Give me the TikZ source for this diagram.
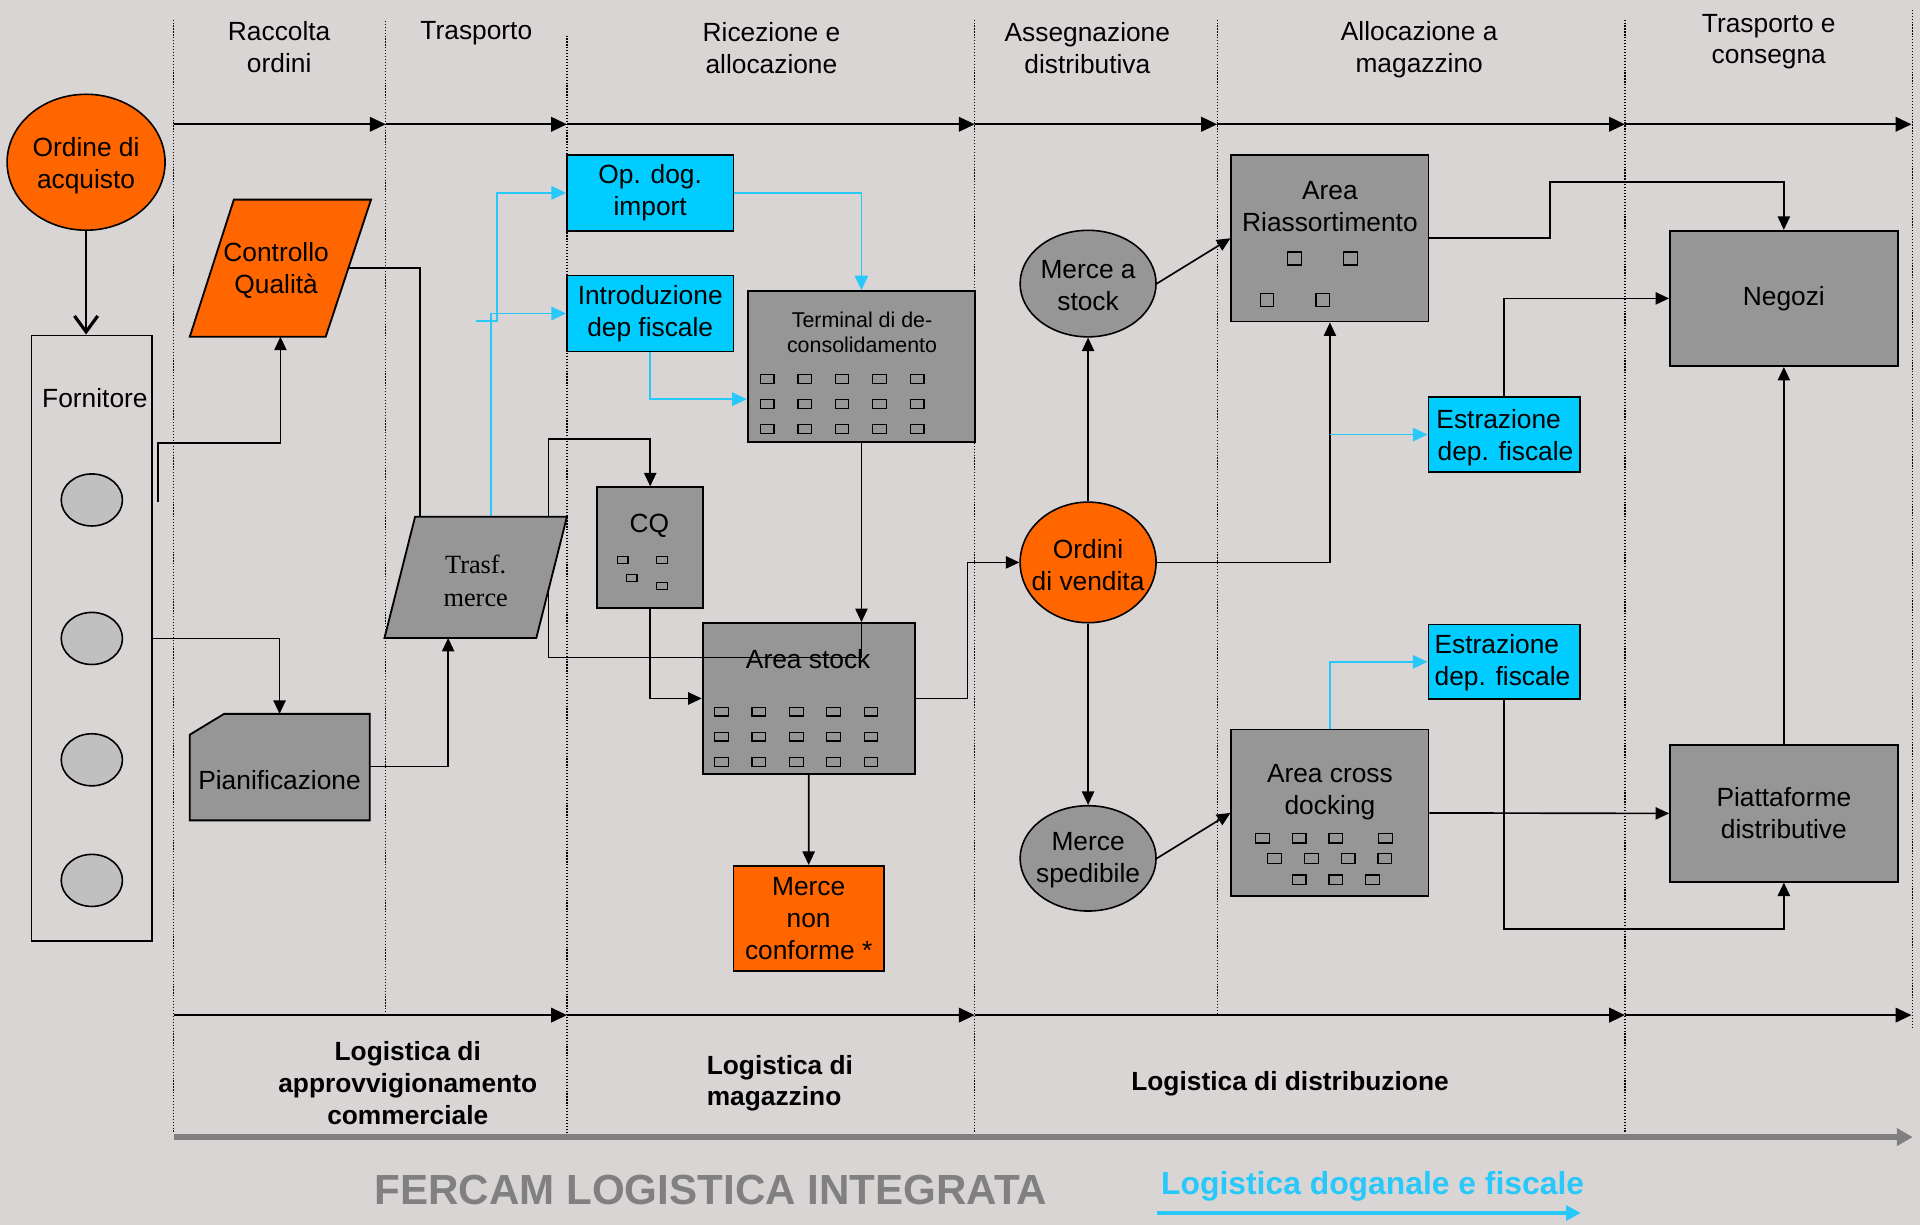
\documentclass[tikz,border=0pt]{standalone}
\usepackage{fontspec}
\setmainfont{Liberation Sans}
\newfontfamily\serifx{Liberation Serif}
\usetikzlibrary{arrows.meta,shapes.geometric}
\definecolor{bgc}{RGB}{217,213,213}
\definecolor{orng}{RGB}{255,102,0}
\definecolor{cyanb}{RGB}{0,204,255}
\definecolor{cyanl}{RGB}{40,200,250}
\definecolor{gboxc}{RGB}{150,150,150}
\definecolor{lgrey}{RGB}{192,192,192}
\definecolor{dgrey}{RGB}{128,128,128}
\tikzset{
 txt/.style={font=\fontsize{21.5}{26}\selectfont, align=center, inner sep=0pt},
 btxt/.style={font=\fontsize{21.5}{26}\selectfont\bfseries, align=center, inner sep=0pt},
 smtxt/.style={font=\fontsize{17.5}{21}\selectfont, align=center, inner sep=0pt},
 grect/.style={rectangle, draw=black, line width=1.5pt, fill=gboxc, inner sep=0pt},
 crect/.style={rectangle, draw=black, line width=1.5pt, fill=cyanb, inner sep=0pt, font=\fontsize{21.5}{26}\selectfont, align=center},
 orect/.style={rectangle, draw=black, line width=1.3pt, fill=orng, inner sep=0pt, font=\fontsize{21.5}{26}\selectfont, align=center},
 gell/.style={ellipse, draw=black, line width=1.3pt, fill=gboxc, inner sep=0pt},
 oell/.style={ellipse, draw=black, line width=1.3pt, fill=orng, inner sep=0pt},
 conn/.style={line width=1.35pt, -{Triangle[length=11pt,width=10pt]}},
 plainc/.style={line width=1.35pt},
 bconn/.style={line width=1.35pt, draw=cyanl, -{Triangle[length=12pt,width=11pt,fill=cyanl]}},
 sqs/.style={draw=black, line width=1pt, fill=gboxc},
 vsep/.style={line width=1pt, dash pattern=on 1pt off 1.4pt},
 phase/.style={line width=1.4pt, -{Triangle[length=13pt,width=12pt]}},
 shapeb/.style={draw=black, line width=1.5pt},
}
\begin{document}
\begin{tikzpicture}[x=1pt,y=-1pt]
\fill[bgc] (0,0) rectangle (1568,1000);
\useasboundingbox (0,0) rectangle (1568,1000);

% ---- phase separators
\foreach \xx/\ya/\yb in {142/16/925, 315/17/829, 463/29/925, 796/16/925, 994/16/829, 1327/16/925, 1562/8/840}
  \draw[vsep] (\xx,\ya) -- (\xx,\yb);

% ---- phase arrows
\coordinate (t0) at (142,101.5);
\coordinate (t1) at (315,101.5);
\coordinate (t2) at (463,101.5);
\coordinate (t3) at (796,101.5);
\coordinate (t4) at (994,101.5);
\coordinate (t5) at (1327,101.5);
\coordinate (t6) at (1561,101.5);
\draw[phase] (t0) -- (t1);
\draw[phase] (t1) -- (t2);
\draw[phase] (t2) -- (t3);
\draw[phase] (t3) -- (t4);
\draw[phase] (t4) -- (t5);
\draw[phase] (t5) -- (t6);
\coordinate (b0) at (142,829);
\coordinate (b1) at (463,829);
\coordinate (b2) at (796,829);
\coordinate (b3) at (1327,829);
\coordinate (b4) at (1561,829);
\draw[phase] (b0) -- (b1);
\draw[phase] (b1) -- (b2);
\draw[phase, line width=2pt] (b2) -- (b3);
\draw[phase] (b3) -- (b4);

% ---- headers
\node[txt] (h1) at (228,38.8) {Raccolta\\ordini};
\node[txt] (h2) at (389,27) {Trasporto};
\node[txt] (h3) at (630,39.3) {Ricezione e\\allocazione};
\node[txt] (h4) at (888,39.3) {Assegnazione\\distributiva};
\node[txt] (h5) at (1159,40.3) {Allocazione a\\magazzino};
\node[txt] (h6) at (1444.5,34) {Trasporto e\\consegna};

% ---- left column
\node[oell, minimum width=129pt, minimum height=111pt] (oda) at (70.3,132.5) {};
\node[txt] (odat) at (70.3,135) {Ordine di\\acquisto};
\node[rectangle, draw=black, line width=1.5pt, minimum width=98.6pt, minimum height=494.5pt, inner sep=0pt] (forn) at (75,521.2) {};
\node[txt] (fornt) at (77.5,325) {Fornitore};
\foreach \cy/\nm in {408.3/e1, 521.4/e2, 620.5/e3, 719/e4}
  \node[ellipse, draw=black, line width=1.3pt, fill=lgrey, minimum width=50pt, minimum height=42.5pt, inner sep=0pt] (\nm) at (75,\cy) {};
\draw[line width=1.3pt, -{Straight Barb[length=13pt,width=19pt,line width=2.6pt]}] (oda.south) -- (oda.south |- forn.north);

% Controllo Qualita parallelogram
\coordinate (cq1) at (191,163);
\coordinate (cq2) at (303,163);
\coordinate (cq3) at (266,275);
\coordinate (cq4) at (155,275);
\fill[orng] (cq1) -- (cq2) -- (cq3) -- (cq4) -- cycle;
\draw[shapeb] (cq1) -- (cq2) -- (cq3) -- (cq4) -- cycle;
\node[txt] (cqualt) at (225.5,221) {Controllo\\Qualità};
\coordinate (cqbot) at (229,275);
\coordinate (cqright) at (284.5,219);

% Pianificazione
\coordinate (p1) at (155,600);
\coordinate (p2) at (183,583);
\coordinate (p3) at (302,583);
\coordinate (p4) at (302,670);
\coordinate (p5) at (155,670);
\filldraw[fill=gboxc, draw=black, line width=1.5pt] (p1) -- (p2) -- (p3) -- (p4) -- (p5) -- cycle;
\node[txt] (piant) at (228.3,637) {Pianificazione};
\coordinate (piantop) at (228.3,583);
\coordinate (pianright) at (302,626);

% Trasf. merce corners
\coordinate (tr1) at (339,422);
\coordinate (tr2) at (463,422);
\coordinate (tr3) at (438,521);
\coordinate (tr4) at (314,521);
\coordinate (trtopA) at (343,422);
\coordinate (trtopB) at (401,422);
\coordinate (trbot) at (366,521);

% ---- middle boxes
\node[crect, minimum width=136pt, minimum height=62pt] (opdog) at (531,157.5) {Op. dog.\\import};
\node[crect, minimum width=136pt, minimum height=62pt] (intro) at (531,256) {Introduzione\\dep fiscale};
\node[grect, minimum width=185.7pt, minimum height=122.9pt] (term) at (703.5,299.2) {};
\node[smtxt] (termt) at (704,271.5) {Terminal di de-\\consolidamento};
\foreach \cx in {626.4,657.2,687.6,718.1,748.9}
  \foreach \cy in {309.5,330,350.4}
    \draw[sqs] (\cx-5.6,\cy-3.6) rectangle (\cx+5.6,\cy+3.6);

\node[grect, minimum width=86.9pt, minimum height=98.5pt] (cq) at (531,447.2) {};
\node[txt] (cqt) at (530.3,429.5) {CQ};
\foreach \cx/\cy in {508.5/457.2, 540.6/457.2, 515.9/471.8, 540.6/478.3}
  \draw[sqs] (\cx-4.3,\cy-2.9) rectangle (\cx+4.3,\cy+2.9);

\node[grect, minimum width=173.4pt, minimum height=123.2pt] (stock) at (660.5,570.4) {};
\node[txt] (stockt) at (660,538) {Area stock};
\foreach \cx in {589.4,619.8,650.3,680.8,711.3}
  \foreach \cy in {581.1,601.6,622.3}
    \draw[sqs] (\cx-5.6,\cy-3.6) rectangle (\cx+5.6,\cy+3.6);

\node[orect, minimum width=123pt, minimum height=86pt] (nonconf) at (660.4,750) {Merce\\non\\conforme *};

% ---- right part
\node[gell, minimum width=111pt, minimum height=87pt] (mstock) at (888.6,231.6) {};
\node[txt] (mstockt) at (888.6,233.5) {Merce a\\stock};
\node[oell, minimum width=111pt, minimum height=98.5pt] (ordini) at (888.6,459.3) {};
\node[txt] (ordinit) at (888.6,461.5) {Ordini\\di vendita};
\node[gell, minimum width=111pt, minimum height=86pt] (mspe) at (888.6,701) {};
\node[txt] (mspet) at (888.6,702.5) {Merce\\spedibile};

\node[grect, minimum width=161pt, minimum height=136pt] (riass) at (1086.1,194.6) {};
\node[txt] (riasst) at (1086.1,168.5) {Area\\Riassortimento};
\foreach \cx/\cy in {1057.3/211.1, 1102.9/211.1, 1034.7/245.2, 1080.4/245.2}
  \draw[sqs] (\cx-5.6,\cy-5.3) rectangle (\cx+5.6,\cy+5.3);

\node[grect, minimum width=161pt, minimum height=136.2pt] (cross) at (1086.1,663.9) {};
\node[txt] (crosst) at (1086.1,647) {Area cross\\docking};
\foreach \cx/\cy in {1030.9/684.4, 1061/684.4, 1091/684.4, 1131.6/684.4, 1041/701.1, 1071/701.1, 1101/701.1, 1131/701.1, 1061/718.6, 1091/718.6, 1121/718.6}
  \draw[sqs] (\cx-5.6,\cy-4) rectangle (\cx+5.6,\cy+4);

\node[crect, minimum width=123.5pt, minimum height=61.3pt] (estr1) at (1228.3,354.9) {};
\node[txt, align=left] (estr1t) at (1229,357.5) {Estrazione\\\hspace*{1pt}dep. fiscale};
\node[crect, minimum width=123.5pt, minimum height=61pt] (estr2) at (1228.3,540.5) {};
\node[txt, align=left] (estr2t) at (1227,541.5) {Estrazione\\dep. fiscale};

\node[grect, minimum width=186pt, minimum height=110.5pt, font=\fontsize{21.5}{26}\selectfont] (negozi) at (1456.8,243.7) {Negozi};
\node[grect, minimum width=186pt, minimum height=111.4pt, font=\fontsize{21.5}{26}\selectfont, align=center] (piatt) at (1456.8,664.3) {Piattaforme\\distributive};

% ---- connectors (left)
\coordinate (fstart) at (129,410);
\draw[conn] (fstart) -- (129,362) -| (cqbot);
\draw[conn] (forn.east |- e2) -| (piantop);
\draw[plainc] (cqright) -- (343,219) -- (trtopA);
\draw[conn] (pianright) -- (366,626) -- (trbot);

% customs (blue)
\coordinate (bstub) at (389,262);
\draw[bconn] (bstub) -- (406,262) -- (406,157.5) -- (opdog.west);
\draw[bconn] (trtopB) -- (401,256) -- (intro.west);
\draw[bconn] (opdog.east) -| (term.north);
\draw[bconn] (intro.south) |- (term.west |- 0,326);

% warehouse
\draw[conn] (term.south) -- (term.south |- stock.north);
\draw[plainc] (term.south |- stock.north) -- (703.5,537);
\draw[conn] (703.5,537) -- (448,537) -- (448,358.5) -| (cq.north);
\draw[conn] (cq.south) |- (stock.west);
\draw[conn] (stock.south) -- (nonconf.north);
\draw[conn] (stock.east) -- (790,570.4) -- (790,459.3) -- (ordini.west);

% distribution
\draw[conn] (ordini.north) -- (mstock.south);
\draw[conn] (ordini.south) -- (mspe.north);
\draw[conn] (ordini.east) -| (riass.south);
\draw[conn] (mstock.east) -- (riass.west);
\draw[conn] (mspe.east) -- (cross.west);
\draw[bconn] (riass.south |- estr1.west) -- (estr1.west);
\draw[bconn] (cross.north) |- (estr2.west);
\draw[conn] (riass.east) -- (1266,194.6) -- (1266,148.5) -| (negozi.north);
\draw[conn] (estr1.north) |- (negozi.west);
\draw[conn] (cross.east) -- (piatt.west);
\draw[conn] (estr2.south) -- (estr2.south |- 0,758.5) -| (piatt.south);
\draw[conn] (piatt.north) -- (negozi.south);

% Trasf. merce on top
\fill[gboxc] (tr1) -- (tr2) -- (tr3) -- (tr4) -- cycle;
\draw[shapeb] (tr1) -- (tr2) -- (tr3) -- (tr4) -- cycle;
\node[font=\serifx\fontsize{21.5}{27}\selectfont, align=center, inner sep=0pt] (trasft) at (388.5,474) {Trasf.\\merce};

% ---- bottom labels
\node[btxt] (l1) at (333,884.3) {Logistica di\\approvvigionamento\\commerciale};
\node[btxt, align=left, anchor=west] (l2) at (577,884.7) {Logistica di\\magazzino};
\node[btxt] (l3) at (1053.5,884.7) {Logistica di distribuzione};

\coordinate (ga) at (142,928.6);
\coordinate (gb) at (1562,928.6);
\draw[dgrey, line width=4.5pt, -{Triangle[length=13pt,width=14pt]}] (ga) -- (gb);

\node[font=\fontsize{34.4}{40}\selectfont\bfseries, text=dgrey, inner sep=0pt] (fercam) at (580.5,972) {FERCAM LOGISTICA INTEGRATA};
\node[font=\fontsize{26}{30}\selectfont\bfseries, text=cyanl, inner sep=0pt] (ldf) at (1121,969) {Logistica doganale e fiscale};
\coordinate (la) at (945,990.6);
\coordinate (lb) at (1291,990.6);
\draw[cyanl, line width=3.5pt, -{Triangle[length=12pt,width=12pt]}] (la) -- (lb);
\end{tikzpicture}
\end{document}
